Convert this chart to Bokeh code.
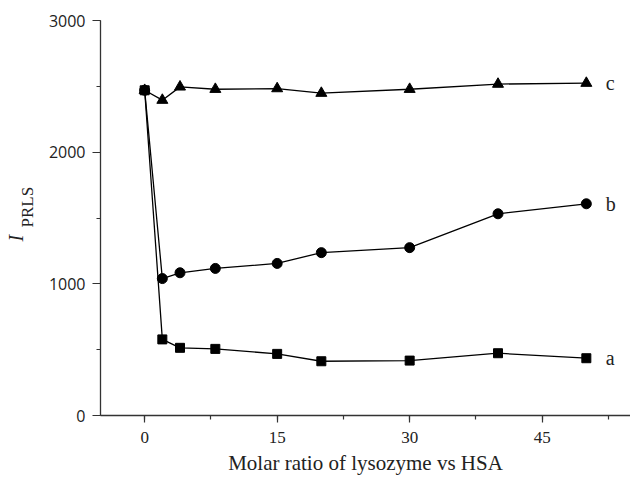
import math
from bokeh.plotting import figure
from bokeh.layouts import row
from bokeh.models import Range1d, SingleIntervalTicker
from bokeh.core.properties import value
from bokeh.embed import file_html
from bokeh.resources import INLINE

# Data
ratio = [0, 2, 4, 8, 15, 20, 30, 40, 50]
series_a = [2470, 578, 514, 506, 468, 412, 417, 473, 435]      # squares
series_b = [2470, 1040, 1084, 1117, 1155, 1237, 1275, 1532, 1608]  # circles
series_c = [2470, 2395, 2496, 2478, 2483, 2448, 2478, 2517, 2524]  # triangles
series_names = ["a", "b", "c"]
x_label = "Molar ratio of lysozyme vs HSA"
y_label_main = "I"
y_label_sub = "PRLS"

SERIF = "Liberation Serif"
SANS = "Open Sans"
LABEL_W = 45
H = 477

p = figure(width=630 - LABEL_W, height=H, output_backend="svg", toolbar_location=None,
           x_range=Range1d(-5, 55), y_range=Range1d(0, 3000),
           min_border_left=99 - LABEL_W, min_border_top=20, min_border_right=0,
           min_border_bottom=0)
p.outline_line_color = None
p.xgrid.grid_line_color = None
p.ygrid.grid_line_color = None
p.background_fill_color = "white"
p.border_fill_color = "white"

# axes
p.xaxis.ticker = SingleIntervalTicker(interval=15, num_minor_ticks=2)
p.yaxis.ticker = SingleIntervalTicker(interval=1000, num_minor_ticks=2)
for ax in (p.xaxis[0], p.yaxis[0]):
    ax.axis_line_color = "#333333"
    ax.axis_line_width = 1.3
    ax.major_tick_line_color = "#333333"
    ax.minor_tick_line_color = "#333333"
    ax.major_tick_line_width = 1.2
    ax.minor_tick_line_width = 1.2
    ax.major_tick_in = 0
    ax.minor_tick_in = 0
    ax.major_label_text_color = "#222222"

p.xaxis.major_tick_out = 7
p.xaxis.minor_tick_out = 4
p.yaxis.major_tick_out = 8
p.yaxis.minor_tick_out = 4
p.xaxis.major_label_text_font = SERIF
p.xaxis.major_label_text_font_size = "17px"
p.xaxis.major_label_standoff = 9
p.yaxis.major_label_text_font = SANS
p.yaxis.major_label_text_font_size = "16px"
p.yaxis.major_label_standoff = 7

p.xaxis.axis_label = x_label
p.xaxis.axis_label_text_font = SERIF
p.xaxis.axis_label_text_font_style = "normal"
p.xaxis.axis_label_text_font_size = "21px"
p.xaxis.axis_label_text_color = "#222222"
p.xaxis.axis_label_standoff = 5

# lines
for ys in (series_a, series_b, series_c):
    p.line(ratio, ys, line_color="black", line_width=1.3)

p.scatter(ratio, series_a, marker="square", size=9, fill_color="black", line_color="black")
p.scatter(ratio, series_c, marker="triangle", size=11, fill_color="black", line_color="black")
p.scatter(ratio, series_b, marker="circle", size=10, fill_color="black", line_color="black")

# series letters next to the last points
p.text(x=[ratio[-1] + 2.2] * 3, y=[series_a[-1], series_b[-1], series_c[-1]],
       text=series_names, text_font=value(SERIF), text_font_size="20px",
       text_align="left", text_baseline="middle", text_color="#222222")

# narrow strip on the left carrying the rotated y-axis title: italic I + subscript PRLS
lab = figure(width=LABEL_W, height=H, output_backend="svg", toolbar_location=None,
             x_range=Range1d(0, LABEL_W), y_range=Range1d(0, H),
             min_border=0)
lab.axis.visible = False
lab.grid.visible = False
lab.outline_line_color = None
lab.background_fill_color = "white"
lab.border_fill_color = "white"
lab.text(x=[15], y=[210], text=[y_label_main], angle=math.pi / 2,
         text_font=value(SERIF), text_font_style="italic", text_font_size="20px",
         text_align="left", text_baseline="alphabetic", text_color="#222222")
lab.text(x=[27], y=[227], text=[y_label_sub], angle=math.pi / 2,
         text_font=value(SERIF), text_font_size="17px",
         text_align="left", text_baseline="alphabetic", text_color="#222222")

layout = row(lab, p)
open("out.html", "w").write(file_html(layout, INLINE))
